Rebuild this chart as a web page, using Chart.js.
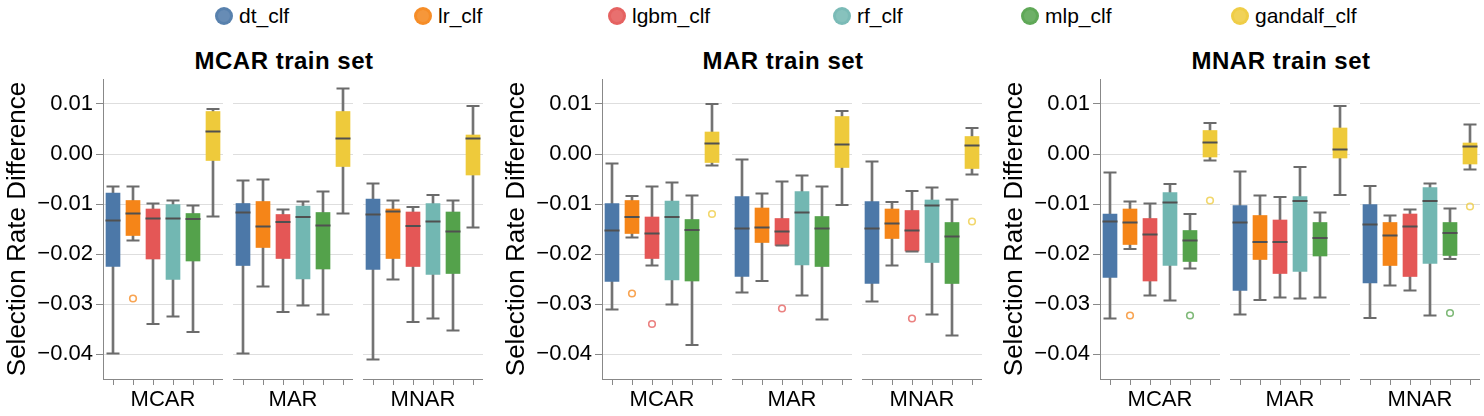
<!DOCTYPE html>
<html>
<head>
<meta charset="utf-8">
<script src="https://cdn.jsdelivr.net/npm/chart.js@4.4.1/dist/chart.umd.min.js"></script>
<style>
  body { margin: 0; background: #fff; font-family: "Liberation Sans", Arial, Helvetica, sans-serif; }
  #fig { position: relative; width: 1484px; height: 416px; overflow: hidden; }
  #fig canvas { position: absolute; top: 70px; }
  .panel-title { position: absolute; top: 46px; width: 300px; line-height: 30px; text-align: center;
    font-size: 24px; font-weight: bold; letter-spacing: 0.5px; color: #000; }
  .legend-item { position: absolute; top: 4px; line-height: 24px; font-size: 21px; color: #000; white-space: nowrap; }
  .legend-dot { position: absolute; top: 3px; left: -24px; width: 12px; height: 12px; border-radius: 50%;
    border: 3px solid; background-clip: padding-box; }
</style>
</head>
<body>
<div id="fig"></div>
<script>
// classifiers, sub groups (test missingness) and panels (train missingness)
const classifiers = ['dt_clf', 'lr_clf', 'lgbm_clf', 'rf_clf', 'mlp_clf', 'gandalf_clf'];
const testSets = ['MCAR', 'MAR', 'MNAR'];
const panelTitles = ['MCAR train set', 'MAR train set', 'MNAR train set'];
const yTicks = [0.01, 0.00, -0.01, -0.02, -0.03, -0.04];

// box stats per panel: rows = test set (MCAR, MAR, MNAR), columns = classifier
const mcarTrainMax = [
  [-0.0065, -0.0065, -0.0099, -0.0093, -0.0103, 0.0090],
  [-0.0053, -0.0051, -0.0111, -0.0095, -0.0075, 0.0131],
  [-0.0059, -0.0093, -0.0106, -0.0082, -0.0093, 0.0096]
];
const mcarTrainQ3 = [
  [-0.0078, -0.0093, -0.0110, -0.0101, -0.0119, 0.0085],
  [-0.0099, -0.0095, -0.0121, -0.0104, -0.0117, 0.0085],
  [-0.0090, -0.0110, -0.0116, -0.0099, -0.0116, 0.0038]
];
const mcarTrainMedian = [
  [-0.0133, -0.0119, -0.0129, -0.0129, -0.0130, 0.0045],
  [-0.0117, -0.0145, -0.0136, -0.0126, -0.0143, 0.0031],
  [-0.0121, -0.0115, -0.0144, -0.0135, -0.0155, 0.0031]
];
const mcarTrainQ1 = [
  [-0.0225, -0.0163, -0.0210, -0.0251, -0.0214, -0.0013],
  [-0.0223, -0.0187, -0.0209, -0.0250, -0.0230, -0.0025],
  [-0.0231, -0.0209, -0.0225, -0.0241, -0.0239, -0.0042]
];
const mcarTrainMin = [
  [-0.0399, -0.0173, -0.0340, -0.0325, -0.0356, -0.0125],
  [-0.0399, -0.0265, -0.0316, -0.0303, -0.0321, -0.0119],
  [-0.0411, -0.0251, -0.0336, -0.0329, -0.0353, -0.0147]
];
const mcarTrainOutlier = [
  [null, -0.0289, null, null, null, null],
  [null, null, null, null, null, null],
  [null, null, null, null, null, null]
];

const marTrainMax = [
  [-0.0019, -0.0084, -0.0065, -0.0057, -0.0083, 0.0100],
  [-0.0011, -0.0079, -0.0055, -0.0043, -0.0065, 0.0086],
  [-0.0015, -0.0096, -0.0074, -0.0067, -0.0091, 0.0052]
];
const marTrainQ3 = [
  [-0.0099, -0.0093, -0.0126, -0.0094, -0.0131, 0.0044],
  [-0.0085, -0.0108, -0.0129, -0.0075, -0.0125, 0.0075],
  [-0.0095, -0.0110, -0.0113, -0.0092, -0.0137, 0.0035]
];
const marTrainMedian = [
  [-0.0153, -0.0126, -0.0159, -0.0126, -0.0152, 0.0021],
  [-0.0149, -0.0147, -0.0155, -0.0117, -0.0149, 0.0019],
  [-0.0149, -0.0139, -0.0153, -0.0103, -0.0165, 0.0017]
];
const marTrainQ1 = [
  [-0.0255, -0.0159, -0.0209, -0.0252, -0.0254, -0.0017],
  [-0.0245, -0.0177, -0.0183, -0.0222, -0.0225, -0.0027],
  [-0.0259, -0.0169, -0.0194, -0.0217, -0.0259, -0.0029]
];
const marTrainMin = [
  [-0.0311, -0.0167, -0.0223, -0.0301, -0.0382, -0.0023],
  [-0.0277, -0.0254, -0.0183, -0.0283, -0.0331, -0.0102],
  [-0.0295, -0.0223, -0.0195, -0.0321, -0.0363, -0.0041]
];
const marTrainOutlier = [
  [null, -0.0279, -0.0340, null, null, -0.0120],
  [null, null, -0.0309, null, null, null],
  [null, null, -0.0329, null, null, -0.0135]
];

const mnarTrainMax = [
  [-0.0037, -0.0095, -0.0099, -0.0060, -0.0120, 0.0062],
  [-0.0035, -0.0083, -0.0086, -0.0026, -0.0117, 0.0096],
  [-0.0064, -0.0123, -0.0111, -0.0059, -0.0109, 0.0059]
];
const mnarTrainQ3 = [
  [-0.0120, -0.0110, -0.0129, -0.0077, -0.0153, 0.0047],
  [-0.0103, -0.0123, -0.0132, -0.0085, -0.0137, 0.0052],
  [-0.0101, -0.0137, -0.0120, -0.0067, -0.0137, 0.0022]
];
const mnarTrainMedian = [
  [-0.0135, -0.0137, -0.0161, -0.0097, -0.0173, 0.0023],
  [-0.0137, -0.0176, -0.0176, -0.0094, -0.0168, 0.0009],
  [-0.0141, -0.0163, -0.0145, -0.0094, -0.0158, 0.0015]
];
const mnarTrainQ1 = [
  [-0.0247, -0.0181, -0.0254, -0.0223, -0.0215, -0.0006],
  [-0.0273, -0.0211, -0.0239, -0.0235, -0.0204, -0.0008],
  [-0.0258, -0.0223, -0.0245, -0.0219, -0.0203, -0.0020]
];
const mnarTrainMin = [
  [-0.0329, -0.0190, -0.0283, -0.0293, -0.0229, -0.0013],
  [-0.0321, -0.0292, -0.0287, -0.0289, -0.0287, -0.0082],
  [-0.0328, -0.0263, -0.0273, -0.0323, -0.0210, -0.0031]
];
const mnarTrainOutlier = [
  [null, -0.0323, null, null, -0.0323, -0.0093],
  [null, null, null, null, null, null],
  [null, null, null, null, -0.0318, -0.0105]
];

const colors = ['#4c78a8', '#f58518', '#e45756', '#72b7b2', '#54a24b', '#eeca3b'];

document.addEventListener("DOMContentLoaded", function(){

    Chart.defaults.font.family = '"Liberation Sans", Arial, Helvetica, sans-serif';
    Chart.defaults.animation = false;

    const panels = [
        {max: mcarTrainMax, q3: mcarTrainQ3, med: mcarTrainMedian, q1: mcarTrainQ1, min: mcarTrainMin, out: mcarTrainOutlier},
        {max: marTrainMax, q3: marTrainQ3, med: marTrainMedian, q1: marTrainQ1, min: marTrainMin, out: marTrainOutlier},
        {max: mnarTrainMax, q3: mnarTrainQ3, med: mnarTrainMedian, q1: mnarTrainQ1, min: mnarTrainMin, out: mnarTrainOutlier}
    ];

    // layout in px
    const panelLeft = [0, 499, 997];
    const subOffset = [0, 233, 363];
    const axisWidth = 103;
    const subWidth = 120;
    const legendX = [239, 438, 632, 857, 1045, 1255];

    const fig = document.getElementById('fig');

    function rgba(hex, a){
        const n = parseInt(hex.slice(1), 16);
        return 'rgba(' + (n >> 16) + ',' + ((n >> 8) & 255) + ',' + (n & 255) + ',' + a + ')';
    }

    // legend
    classifiers.forEach(function(name, i){
        const item = document.createElement('div');
        item.className = 'legend-item';
        item.style.left = legendX[i] + 'px';
        item.textContent = name;
        const dot = document.createElement('span');
        dot.className = 'legend-dot';
        dot.style.background = rgba(colors[i], 0.85);
        dot.style.borderColor = rgba(colors[i], 0.55);
        item.appendChild(dot);
        fig.appendChild(item);
    });

    // panel titles, centred a bit left of the plot centre like the original
    panelTitles.forEach(function(t, p){
        const d = document.createElement('div');
        d.className = 'panel-title';
        const centre = panelLeft[p] + axisWidth + 190 - 9;
        d.style.left = (centre - 150) + 'px';
        d.textContent = t;
        fig.appendChild(d);
    });

    function fmt(v){
        if (Math.abs(v) < 1e-9) return '0.00';
        return v.toFixed(2).replace('-', '\u2212');
    }

    function makeSub(p, s){
        const first = s === 0;
        const st = panels[p];
        const w = first ? axisWidth + subWidth : subWidth;
        const canvas = document.createElement('canvas');
        canvas.width = w;
        canvas.height = 346;
        canvas.style.left = (panelLeft[p] + subOffset[s]) + 'px';
        canvas.style.width = w + 'px';
        canvas.style.height = '346px';
        fig.appendChild(canvas);

        const whiskers = classifiers.map((c, i) => [st.min[s][i], st.max[s][i]]);
        const boxes = classifiers.map((c, i) => [st.q1[s][i], st.q3[s][i]]);
        const capStyle = {type: 'line', showLine: false, pointStyle: 'line', pointRadius: 6.5,
            pointBorderWidth: 2, borderColor: '#6b6b6b', pointBorderColor: '#6b6b6b', order: 2};

        new Chart(canvas, {
            type: 'bar',
            data: {
                labels: classifiers,
                datasets: [
                    {type: 'line', data: st.out[s], showLine: false, pointStyle: 'circle', pointRadius: 3.3,
                     pointBorderWidth: 1.6, borderColor: colors.map(c => rgba(c, 0.75)),
                     pointBorderColor: colors.map(c => rgba(c, 0.75)), pointBackgroundColor: 'rgba(255,255,255,0)', order: 0},
                    {type: 'line', data: st.med[s], showLine: false, pointStyle: 'line', pointRadius: 7.5,
                     pointBorderWidth: 2, borderColor: '#505050', pointBorderColor: '#505050', order: 1},
                    Object.assign({data: st.max[s]}, capStyle),
                    Object.assign({data: st.min[s]}, capStyle),
                    {data: boxes, backgroundColor: colors, barThickness: 14, grouped: false, borderWidth: 0, order: 3},
                    {data: whiskers, backgroundColor: '#737373', barThickness: 2, grouped: false, borderWidth: 0, order: 4}
                ]
            },
            options: {
                responsive: false,
                animation: false,
                events: [],
                layout: { autoPadding: false, padding: { top: 9, left: 0, right: 0, bottom: 0 } },
                plugins: { legend: { display: false }, tooltip: { enabled: false } },
                scales: {
                    x: {
                        offset: true,
                        grid: { drawOnChartArea: false, drawTicks: true, tickLength: 6, tickColor: '#888', offset: false },
                        border: { display: true, color: '#888' },
                        ticks: { display: false },
                        title: { display: true, text: testSets[s], color: '#000',
                                 font: { size: 22 }, padding: { top: 0, bottom: 3 } },
                        afterFit: function(sc){
                            sc.height = 37;
                            sc.paddingLeft = 0;
                            sc.paddingRight = 0;
                        }
                    },
                    y: {
                        min: -0.045,
                        max: 0.015,
                        afterBuildTicks: function(sc){ sc.ticks = yTicks.map(v => ({value: v})) },
                        ticks: { display: first, color: '#000', font: { size: 22 }, padding: 3, callback: fmt },
                        grid: { color: '#dedede', drawTicks: first, tickLength: 7, tickColor: '#888' },
                        border: { display: first, color: '#888' },
                        title: { display: first, text: 'Selection Rate Difference', color: '#000',
                                 font: { size: 26 }, padding: { top: 2, bottom: 0 } },
                        afterFit: function(sc){
                            sc.width = first ? axisWidth : 0;
                            sc.paddingTop = 0;
                            sc.paddingBottom = 0;
                        }
                    }
                }
            }
        });
    }

    for (let p = 0; p < 3; p++){
        for (let s = 0; s < 3; s++){
            makeSub(p, s);
        }
    }
});
</script>
</body>
</html>
